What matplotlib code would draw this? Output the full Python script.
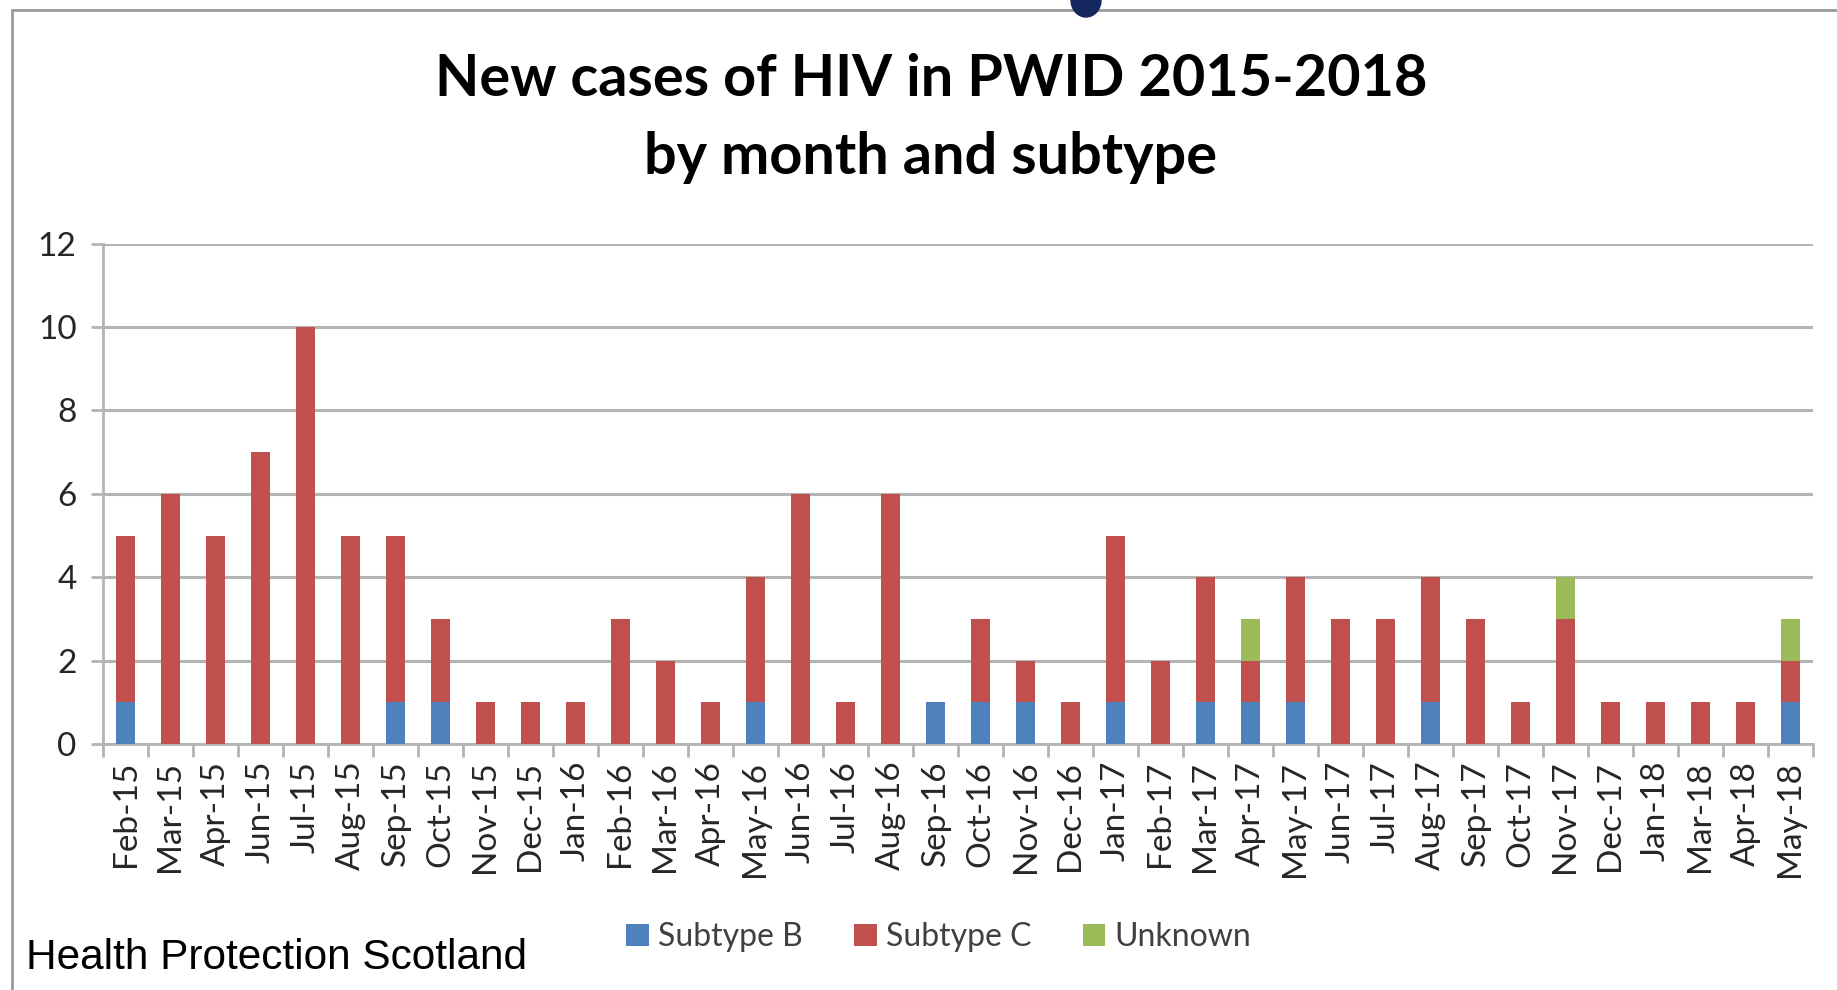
import numpy as np
import matplotlib
matplotlib.use('Agg')
import matplotlib.pyplot as plt
from matplotlib.patches import Rectangle, Ellipse

months = ['Feb-15', 'Mar-15', 'Apr-15', 'Jun-15', 'Jul-15', 'Aug-15', 'Sep-15', 'Oct-15',
          'Nov-15', 'Dec-15', 'Jan-16', 'Feb-16', 'Mar-16', 'Apr-16', 'May-16', 'Jun-16',
          'Jul-16', 'Aug-16', 'Sep-16', 'Oct-16', 'Nov-16', 'Dec-16', 'Jan-17', 'Feb-17',
          'Mar-17', 'Apr-17', 'May-17', 'Jun-17', 'Jul-17', 'Aug-17', 'Sep-17', 'Oct-17',
          'Nov-17', 'Dec-17', 'Jan-18', 'Mar-18', 'Apr-18', 'May-18']
subtype_b = [1, 0, 0, 0, 0, 0, 1, 1, 0, 0, 0, 0, 0, 0, 1, 0, 0, 0, 1, 1, 1, 0, 1, 0,
             1, 1, 1, 0, 0, 1, 0, 0, 0, 0, 0, 0, 0, 1]
subtype_c = [4, 6, 5, 7, 10, 5, 4, 2, 1, 1, 1, 3, 2, 1, 3, 6, 1, 6, 0, 2, 1, 1, 4, 2,
             3, 1, 3, 3, 3, 3, 3, 1, 3, 1, 1, 1, 1, 1]
unknown = [0, 0, 0, 0, 0, 0, 0, 0, 0, 0, 0, 0, 0, 0, 0, 0, 0, 0, 0, 0, 0, 0, 0, 0,
           0, 1, 0, 0, 0, 0, 0, 0, 1, 0, 0, 0, 0, 1]

blue = '#4f81bd'
red = '#c0504d'
green = '#9bbb59'
grid = '#b4b4b4'
calibri = ['Lato', 'DejaVu Sans']

fig = plt.figure(figsize=(18.37, 9.90), dpi=100)
fig.patch.set_facecolor('white')

# outer frame of the slide chart
fig.add_artist(Rectangle((12 / 1837, -0.01), 1.1, 1 - 10 / 990 + 0.01,
                         transform=fig.transFigure, fill=False,
                         edgecolor='#9a9a9a', lw=2))
# bit of a navy letter peeking in from above
fig.add_artist(Ellipse((1086 / 1837, 1.0), 30 / 1837, 34 / 990,
                       transform=fig.transFigure, color='#14275e'))

ax = fig.add_axes([103 / 1837, 1 - 744 / 990, (1813 - 103) / 1837, (744 - 243.7) / 990])
x = np.arange(len(months))
b = np.array(subtype_b)
c = np.array(subtype_c)
u = np.array(unknown)
w = 0.42
ax.bar(x, b, w, color=blue, label='Subtype B', zorder=3)
ax.bar(x, c, w, bottom=b, color=red, label='Subtype C', zorder=3)
ax.bar(x, u, w, bottom=b + c, color=green, label='Unknown', zorder=3)

ax.set_xlim(-0.5, len(months) - 0.5)
ax.set_ylim(0, 12)
ax.set_yticks(range(0, 13, 2))
ax.yaxis.grid(True, color=grid, lw=2.2, zorder=0)
ax.set_axisbelow(True)
for s in ['top', 'right']:
    ax.spines[s].set_visible(False)
ax.spines['left'].set_color(grid)
ax.spines['bottom'].set_color(grid)
ax.spines['left'].set_linewidth(2)
ax.spines['bottom'].set_linewidth(2)

ax.set_xticks(x)
ax.set_xticklabels(months, rotation=90, fontsize=24, family=calibri, color='#262626')
ax.set_xticks(np.arange(len(months) + 1) - 0.5, minor=True)
ax.tick_params(axis='x', which='major', length=0, pad=12)
ax.tick_params(axis='x', which='minor', length=9, width=2, color=grid)
ax.tick_params(axis='y', length=9, width=2, color=grid, pad=10)
for t in ax.get_yticklabels():
    t.set_fontsize(24)
    t.set_family(calibri)
    t.set_color('#262626')

fig.text(931 / 1837, 1 - 80 / 990, 'New cases of HIV in PWID 2015-2018',
         ha='center', va='center', fontsize=41.5, fontweight='bold', family=calibri)
fig.text(931 / 1837, 1 - 158 / 990, 'by month and subtype',
         ha='center', va='center', fontsize=41.5, fontweight='bold', family=calibri)

leg = fig.legend(loc='center', bbox_to_anchor=(939 / 1837, 1 - 937 / 990), ncol=3,
                 frameon=False, handlelength=0.7, handleheight=0.7,
                 handletextpad=0.3, columnspacing=1.6, prop={'family': calibri, 'size': 23})
for t in leg.get_texts():
    t.set_color('#404040')

fig.text(26 / 1837, 1 - 958 / 990, 'Health Protection Scotland', ha='left', va='center',
         fontsize=30.5, family='Liberation Sans', color='black')

fig.savefig('out.png', dpi=100)
